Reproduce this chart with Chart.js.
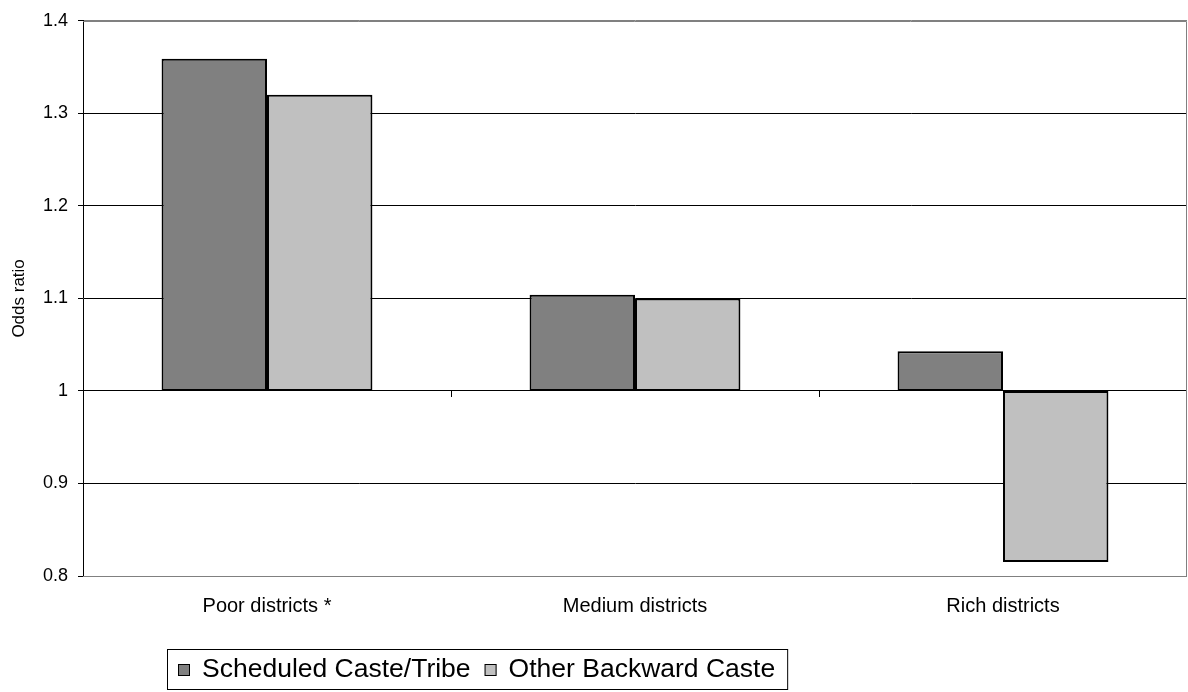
<!DOCTYPE html>
<html>
<head>
<meta charset="utf-8">
<script src="https://cdn.jsdelivr.net/npm/chart.js@4.4.1/dist/chart.umd.min.js"></script>
<style>
  html, body { margin: 0; padding: 0; background: #fff; }
  #wrap { width: 1188px; height: 692px; position: relative; }
</style>
</head>
<body>
<div id="wrap"><canvas id="c" width="1188" height="692"></canvas></div>
<script>
// District groups and odds ratios for each caste group
const categories = ['Poor districts *', 'Medium districts', 'Rich districts'];
const seriesNames = ['Scheduled Caste/Tribe', 'Other Backward Caste'];
const scValues = [1.359, 1.104, 1.043];
const obcValues = [1.320, 1.100, 0.815];
const baseline = 1;
const yTicks = [0.8, 0.9, 1.0, 1.1, 1.2, 1.3, 1.4];

const FONT = '"Liberation Sans", Arial, sans-serif';

// bars float from the reference line (odds ratio = 1)
const toRange = arr => arr.map(v => [baseline, v]);

// plot frame, category tick marks on the baseline, and a boxed legend
const frame = {
  id: 'frame',
  afterDatasetsDraw(chart) {
    const { ctx, chartArea: a, scales: { x, y } } = chart;
    ctx.save();
    // grey plot border (top, right, bottom)
    ctx.strokeStyle = '#808080';
    ctx.lineWidth = 1;
    ctx.beginPath();
    ctx.moveTo(a.left, Math.round(a.top) + 0.5);
    ctx.lineTo(Math.round(a.right) - 0.5, Math.round(a.top) + 0.5);
    ctx.lineTo(Math.round(a.right) - 0.5, Math.round(a.bottom) + 0.5);
    ctx.lineTo(a.left, Math.round(a.bottom) + 0.5);
    ctx.stroke();
    // tick marks between categories, hanging from the baseline
    const yb = Math.round(y.getPixelForValue(baseline));
    ctx.strokeStyle = '#000';
    ctx.beginPath();
    for (let i = 1; i < categories.length; i++) {
      const px = Math.round((x.getPixelForValue(i - 1) + x.getPixelForValue(i)) / 2) + 0.5;
      ctx.moveTo(px, yb);
      ctx.lineTo(px, yb + 6);
    }
    ctx.stroke();
    ctx.restore();
  },
  afterDraw(chart) {
    const { ctx } = chart;
    const ds = chart.data.datasets;
    ctx.save();
    ctx.font = '26.5px ' + FONT;
    ctx.textBaseline = 'middle';
    const boxLeft = 167, boxTop = 649, boxH = 40, sq = 12;
    const cy = boxTop + boxH / 2;
    const padL = 11, padR = 12, gap = 12, itemGap = 14;
    const items = ds.map(d => ({ label: d.label, color: d.backgroundColor, w: ctx.measureText(d.label).width }));
    let total = padL;
    items.forEach((it, i) => { total += sq + gap + it.w + (i < items.length - 1 ? itemGap : padR); });
    ctx.fillStyle = '#fff';
    ctx.fillRect(boxLeft, boxTop, total, boxH);
    ctx.strokeStyle = '#000';
    ctx.lineWidth = 1;
    ctx.strokeRect(boxLeft + 0.5, boxTop + 0.5, total, boxH);
    let xPos = boxLeft + padL;
    items.forEach(it => {
      ctx.fillStyle = it.color;
      ctx.fillRect(xPos, cy - sq / 2 + 1, sq, sq);
      ctx.strokeStyle = '#000';
      ctx.strokeRect(xPos + 0.5, cy - sq / 2 + 1.5, sq - 1, sq - 1);
      xPos += sq + gap;
      ctx.fillStyle = '#000';
      ctx.fillText(it.label, xPos, cy + 1);
      xPos += it.w + itemGap;
    });
    ctx.restore();
  }
};

new Chart(document.getElementById('c'), {
  type: 'bar',
  data: {
    labels: categories,
    datasets: [
      { label: seriesNames[0], data: toRange(scValues), backgroundColor: '#808080', borderColor: '#000', borderWidth: 2, borderSkipped: false },
      { label: seriesNames[1], data: toRange(obcValues), backgroundColor: '#c0c0c0', borderColor: '#000', borderWidth: 2, borderSkipped: false }
    ]
  },
  options: {
    responsive: false,
    animation: false,
    categoryPercentage: 0.573,
    barPercentage: 1.0,
    layout: { padding: { top: 16, right: 1, left: 0, bottom: 0 } },
    plugins: { legend: { display: false }, tooltip: { enabled: false } },
    scales: {
      x: {
        grid: { display: false },
        border: { display: false },
        ticks: { color: '#000', font: { family: FONT, size: 20 }, padding: 10 },
        afterFit(s) { s.height = 116; }
      },
      y: {
        min: 0.8, max: 1.4,
        afterBuildTicks(s) { s.ticks = yTicks.map(v => ({ value: v })); },
        grid: {
          color: ctx => (ctx.tick && (ctx.tick.value === 1.4 || ctx.tick.value === 0.8)) ? '#808080' : '#000',
          tickColor: '#000',
          tickLength: 5,
          lineWidth: 1
        },
        border: { display: true, color: '#000', width: 1 },
        ticks: {
          color: '#000',
          font: { family: FONT, size: 18 },
          padding: 10,
          callback: v => String(Math.round(v * 10) / 10)
        },
        title: { display: true, text: 'Odds ratio', color: '#000', font: { family: FONT, size: 17 }, padding: { top: 9, bottom: 0 } },
        afterFit(s) { s.width = 83; }
      }
    }
  },
  plugins: [frame]
});
</script>
</body>
</html>
